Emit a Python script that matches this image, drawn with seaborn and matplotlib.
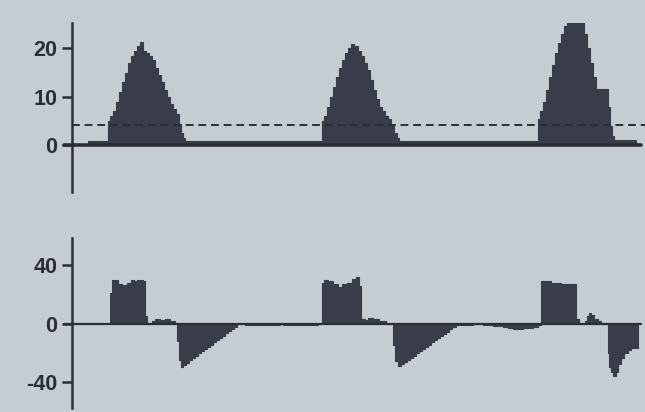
import matplotlib
matplotlib.use('Agg')
import matplotlib.pyplot as plt
import seaborn as sns
import pandas as pd

# top trace: breakpoints (time, value), drawn as steps
top_t = [16, 36, 38, 41, 44, 47, 50, 53, 56, 59, 62, 65, 68, 71, 74, 77, 80, 83, 86, 89,
         92, 95, 98, 101, 104, 107, 109, 111, 113,
         250, 252, 255, 258, 261, 264, 267, 270, 273, 276, 279, 282, 285, 288, 291, 294,
         297, 300, 303, 306, 309, 312, 315, 318, 321, 324, 326,
         465, 467, 470, 473, 476, 479, 482, 485, 488, 491, 494, 511, 514, 517, 520, 523,
         535, 537, 539, 541, 563]
top_v = [0.9, 5.0, 6.0, 7.0, 9.0, 11.0, 13.0, 15.0, 17.0, 18.5, 19.5, 20.5, 21.3, 19.5, 19.0, 18.5,
         17.5, 16.0, 14.5, 13.0, 11.5, 10.0, 8.5, 7.5, 6.5, 4.5, 2.5, 1.5, 0.9,
         5.0, 6.0, 8.0, 10.0, 12.0, 14.0, 16.0, 17.5, 19.0, 20.0, 20.8, 20.5, 19.5, 18.5,
         17.0, 15.5, 13.5, 11.5, 9.5, 8.0, 7.0, 6.0, 5.5, 4.0, 2.5, 1.5, 0.9,
         5.5, 7.0, 9.0, 11.5, 14.0, 16.5, 19.0, 21.0, 23.0, 24.5, 25.3, 23.0, 20.0, 17.0,
         14.0, 11.6, 8.0, 4.0, 2.0, 1.2, 0.0]
threshold = 4.2

# bottom trace
bot_t = [38, 40, 46, 50, 55, 59, 62, 65, 71, 73, 75, 80, 83, 88, 93, 98, 103, 105, 107, 109,
         111, 114, 117, 120, 123, 126, 129, 132, 135, 138, 141, 144, 147, 150, 153, 156,
         159, 162, 165, 173, 208, 211, 246,
         250, 252, 256, 261, 266, 270, 275, 280, 283, 286, 288, 292, 295, 300, 306, 313,
         320, 322, 325, 328, 331, 334, 337, 340, 343, 346, 349, 352, 355, 358, 361, 364,
         367, 370, 373, 376, 379, 383, 400, 410, 420, 430, 435, 440, 450, 460, 465,
         468, 471, 478, 488, 500, 503, 506, 512, 514, 516, 518, 521, 525, 528,
         535, 536, 538, 540, 543, 545, 548, 551, 555, 558, 562, 565]
bot_v = [21, 30, 27, 26.5, 28, 30, 29, 30, 29, 5, 0, 2, 3, 2.5, 3, 2, 0, -12, -25, -30,
         -28.5, -27, -25, -23.5, -22, -20.5, -19, -17.5, -16, -14.5, -13, -11.5, -10, -8.5,
         -6.5, -5, -3.5, -2, 0, -1, 0, -1, 0,
         28, 30, 29, 27, 25.5, 27, 28, 30.5, 32, 26, 3, 2.5, 4, 3, 2, 0,
         -15, -26, -29.5, -28, -26.5, -25, -23.5, -22, -20.5, -19, -17.5, -16, -14.5,
         -13, -11.5, -10, -8.5, -7, -5.5, -4, -2.5, -1, 0, -1, -1.5, -2, -3, -4, -3, -2, -1,
         29, 29.5, 28, 27.5, 27.5, 3, 0, 2, 5, 7.5, 6, 3.5, 2, 0,
         -20, -30, -33, -36, -33, -28, -24, -20, -18, -17, -16.5, 0]

top_ticks = [0, 10, 20]
bot_ticks = [-40, 0, 40]

bg = '#c6ccd3'
ink = '#2b2e36'
fill = '#383d49'

sns.set_style('white', {'axes.facecolor': bg, 'figure.facecolor': bg})
plt.rcParams['font.family'] = ['Liberation Sans', 'DejaVu Sans']

fig = plt.figure(figsize=(6.45, 4.12), dpi=100)
ax1 = fig.add_axes([0.1116, 0.534, 0.89, 0.410])
ax2 = fig.add_axes([0.1116, 0.010, 0.89, 0.4126])

df_top = pd.DataFrame({'t': top_t, 'v': top_v})
df_bot = pd.DataFrame({'t': bot_t, 'v': bot_v})

for ax, df, lim, ticks, zw in [(ax1, df_top, (-9.6, 25.2), top_ticks, 2.6),
                               (ax2, df_bot, (-58, 59), bot_ticks, 1.6)]:
    ax.fill_between(df['t'], df['v'], 0, step='post', color=fill, linewidth=0)
    sns.lineplot(data=df, x='t', y='v', ax=ax, drawstyle='steps-post', color=fill,
                 linewidth=0.8, estimator=None, sort=False)
    ax.axhline(0, xmin=-0.014, xmax=0.991, color=ink, linewidth=zw, clip_on=False)
    ax.set_xlim(0, 573)
    ax.set_ylim(*lim)
    ax.set_yticks(ticks)
    ax.set_yticklabels([str(v) for v in ticks])
    ax.set_xticks([])
    ax.set_xlabel('')
    ax.set_ylabel('')
    for s in ['top', 'right', 'bottom']:
        ax.spines[s].set_visible(False)
    ax.spines['left'].set_color(ink)
    ax.spines['left'].set_linewidth(1.8)
    ax.tick_params(axis='y', direction='out', length=7, width=1.8, color=ink, pad=3.5,
                   left=True, labelsize=15.5, labelcolor=ink)
    for lab in ax.get_yticklabels():
        lab.set_fontweight('bold')

ax1.axhline(threshold, color=ink, linewidth=1.4, linestyle=(0, (4, 2.5)))

fig.savefig('out.png', dpi=100, facecolor=bg)
